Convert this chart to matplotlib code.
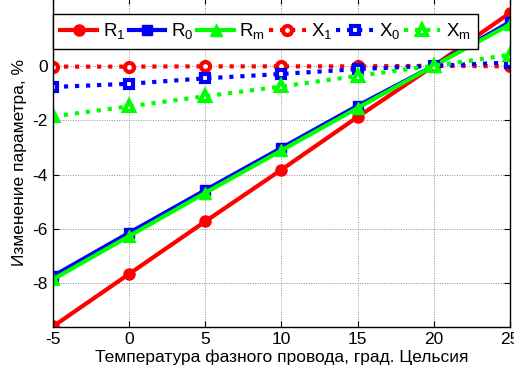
import matplotlib

matplotlib.use("Agg")

import matplotlib.pyplot as plt

plt.rcParams["font.family"] = ["Liberation Sans", "DejaVu Sans"]
plt.rcParams["mathtext.fontset"] = "custom"
plt.rcParams["mathtext.rm"] = "Liberation Sans"
plt.rcParams["mathtext.it"] = "Liberation Sans"
plt.rcParams["axes.unicode_minus"] = False

temps = [-5, 0, 5, 10, 15, 20, 25]

r1 = [-9.58, -7.65, -5.72, -3.82, -1.88, 0.0, 1.94]
r0 = [-7.73, -6.14, -4.57, -3.02, -1.47, 0.0, 1.61]
rm = [-7.85, -6.26, -4.67, -3.11, -1.55, 0.0, 1.52]
x1 = [-0.03, -0.03, -0.02, -0.02, -0.02, 0.0, -0.02]
x0 = [-0.78, -0.66, -0.46, -0.30, -0.12, 0.0, 0.12]
xm = [-1.86, -1.49, -1.12, -0.76, -0.37, 0.0, 0.40]

x_ticks = [-5, 0, 5, 10, 15, 20, 25]
y_ticks = [-8, -6, -4, -2, 0]

fig = plt.figure(figsize=(5.14, 3.69), dpi=100)
# top edge sits just past the canvas, like the cropped original
ax = fig.add_axes([0.103, 0.1138, 0.889, 0.8922])

lw = 3
ax.plot(temps, r1, "-", color="#ff0000", lw=lw, marker="o", ms=8, label="R$_1$")
ax.plot(temps, r0, "-", color="#0000ff", lw=lw, marker="s", ms=7, label="R$_0$")
ax.plot(temps, rm, "-", color="#00ff00", lw=lw, marker="^", ms=9, label="R$_m$")
ax.plot(temps, x1, ":", color="#ff0000", lw=lw, marker="o", ms=6.5, mfc="white",
        mew=3, label="X$_1$")
ax.plot(temps, x0, ":", color="#0000ff", lw=lw, marker="s", ms=6, mfc="white",
        mew=3, label="X$_0$")
ax.plot(temps, xm, ":", color="#00ff00", lw=lw, marker="^", ms=7.5, mfc="white",
        mew=3, label="X$_m$")

ax.set_xlim(-5, 25)
ax.set_ylim(-9.6, 2.5)
ax.set_xticks(x_ticks)
ax.set_yticks(y_ticks)
ax.tick_params(direction="in", labelsize=12.5, top=True, right=True, length=4)
ax.grid(True, color="#909090", linestyle=(0, (1, 1.5)), linewidth=0.7)
for s in ax.spines.values():
    s.set_linewidth(1)

ax.set_xlabel("Температура фазного провода, град. Цельсия", fontsize=12.5, labelpad=2)
ax.set_ylabel("Изменение параметра, %", fontsize=12.5, labelpad=4)

leg = ax.legend(ncol=6, loc="upper left", bbox_to_anchor=(0.0, 0.951),
                borderaxespad=0, fontsize=13.5, handlelength=1.95,
                columnspacing=0.2, handletextpad=0.3, borderpad=0.4,
                fancybox=False, framealpha=1, edgecolor="black")
leg.get_frame().set_linewidth(1)

fig.savefig("out.png", dpi=100)
